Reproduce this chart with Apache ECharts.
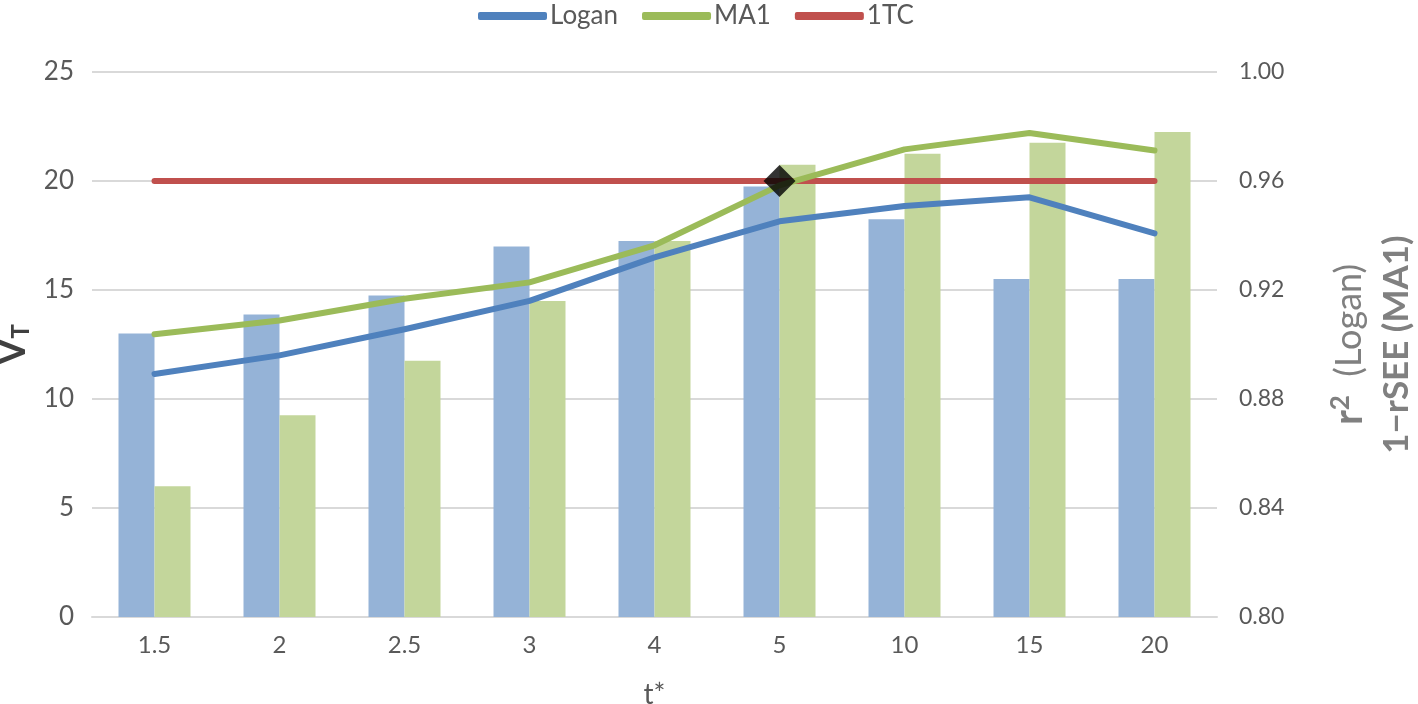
<!DOCTYPE html>
<html>
<head>
<meta charset="utf-8">
<script src="https://cdn.jsdelivr.net/npm/echarts@6/dist/echarts.min.js"></script>
<style>html,body{margin:0;padding:0;background:#fff}#c{width:1418px;height:704px}</style>
</head>
<body>
<div id="c"></div>
<script>
const categories = ['1.5','2','2.5','3','4','5','10','15','20'];
const loganVT = [11.15, 12.0, 13.2, 14.5, 16.5, 18.15, 18.85, 19.25, 17.6];
const ma1VT = [12.97, 13.6, 14.6, 15.35, 17.05, 19.8, 21.45, 22.2, 21.4];
const oneTC = [20, 20, 20, 20, 20, 20, 20, 20, 20];
const loganR2 = [0.904, 0.911, 0.918, 0.936, 0.938, 0.958, 0.946, 0.924, 0.924];
const ma1Fit = [0.848, 0.874, 0.894, 0.916, 0.938, 0.966, 0.970, 0.974, 0.978];
const markerPoint = [['5', 20]];
const leftTicks = {min: 0, max: 25, interval: 5};
const rightTicks = {min: 0.8, max: 1.0, interval: 0.04};

const font = 'Lato, "Open Sans", sans-serif';
const chart = echarts.init(document.getElementById('c'));
chart.setOption({
  animation: false,
  textStyle: {fontFamily: font},
  legend: {
    data: ['Logan', 'MA1', '1TC'],
    top: -2, left: 473,
    itemWidth: 69, itemHeight: 8, itemGap: 24,
    icon: 'roundRect',
    textStyle: {fontSize: 26, color: '#595959', fontFamily: font, padding: [0, 0, 0, -2]}
  },
  grid: {left: 92, right: 201, top: 72, bottom: 87, outerBoundsMode: 'none', containLabel: false},
  xAxis: {
    type: 'category', data: categories,
    axisLine: {lineStyle: {color: '#d9d9d9', width: 2}},
    axisTick: {show: false},
    axisLabel: {fontSize: 24, color: '#595959', margin: 16},
    name: 't*', nameLocation: 'middle', nameGap: 64,
    nameTextStyle: {fontSize: 28, color: '#595959'}
  },
  yAxis: [{
    type: 'value', min: leftTicks.min, max: leftTicks.max, interval: leftTicks.interval,
    axisLabel: {fontSize: 26, color: '#595959', margin: 18},
    splitLine: {lineStyle: {color: '#d9d9d9', width: 2}},
    axisLine: {show: false}, axisTick: {show: false},
    name: '{v|V}{s|T}', nameLocation: 'middle', nameGap: 56, nameRotate: 90,
    nameTextStyle: {rich: {
      v: {fontSize: 38, fontWeight: 'bold', color: '#404040', fontFamily: font},
      s: {fontSize: 24, fontWeight: 'bold', color: '#404040', fontFamily: font, padding: [16, 0, 0, 0]}
    }}
  }, {
    type: 'value', min: rightTicks.min, max: rightTicks.max, interval: rightTicks.interval,
    axisLabel: {fontSize: 23, color: '#595959', margin: 22, formatter: v => v.toFixed(2)},
    splitLine: {show: false},
    axisLine: {show: false}, axisTick: {show: false},
    name: '{rr|r}{sup|2}{lg|  (Logan)}\n{cc|1−rSEE (MA1)}', nameLocation: 'middle', nameGap: 108, nameRotate: 90,
    nameTextStyle: {fontSize: 34, lineHeight: 48, color: '#808080', rich: {
      rr: {fontSize: 40, fontWeight: 'bold', color: '#808080', fontFamily: font, lineHeight: 48},
      cc: {fontSize: 35, fontWeight: 'bold', color: '#808080', fontFamily: font, lineHeight: 48},
      sup: {fontSize: 26, fontWeight: 'bold', color: '#808080', fontFamily: font, padding: [0, 0, 16, 0], lineHeight: 48},
      lg: {fontSize: 36, fontWeight: 'normal', color: '#808080', fontFamily: font, lineHeight: 48}
    }}
  }],
  series: [
    {name: 'Logan r2', type: 'bar', yAxisIndex: 1, data: loganR2, barWidth: 36, barGap: '0%',
     itemStyle: {color: '#95b3d7'}, z: 1},
    {name: 'MA1 fit', type: 'bar', yAxisIndex: 1, data: ma1Fit, barWidth: 36, barGap: '0%',
     itemStyle: {color: '#c3d69b'}, z: 1},
    {name: 'Logan', type: 'line', data: loganVT, symbol: 'none', z: 3,
     lineStyle: {color: '#4f81bd', width: 6, cap: 'round', join: 'round'}, itemStyle: {color: '#4f81bd'}},
    {name: 'MA1', type: 'line', data: ma1VT, symbol: 'none', z: 3,
     lineStyle: {color: '#9bbb59', width: 6, cap: 'round', join: 'round'}, itemStyle: {color: '#9bbb59'}},
    {name: '1TC', type: 'line', data: oneTC, symbol: 'none', z: 2,
     lineStyle: {color: '#c0504d', width: 6, cap: 'round'}, itemStyle: {color: '#c0504d'}},
    {name: 'marker', type: 'scatter', data: markerPoint, symbol: 'diamond', symbolSize: [32, 32],
     itemStyle: {color: '#000'}, z: 5}
  ]
});
</script>
</body>
</html>
